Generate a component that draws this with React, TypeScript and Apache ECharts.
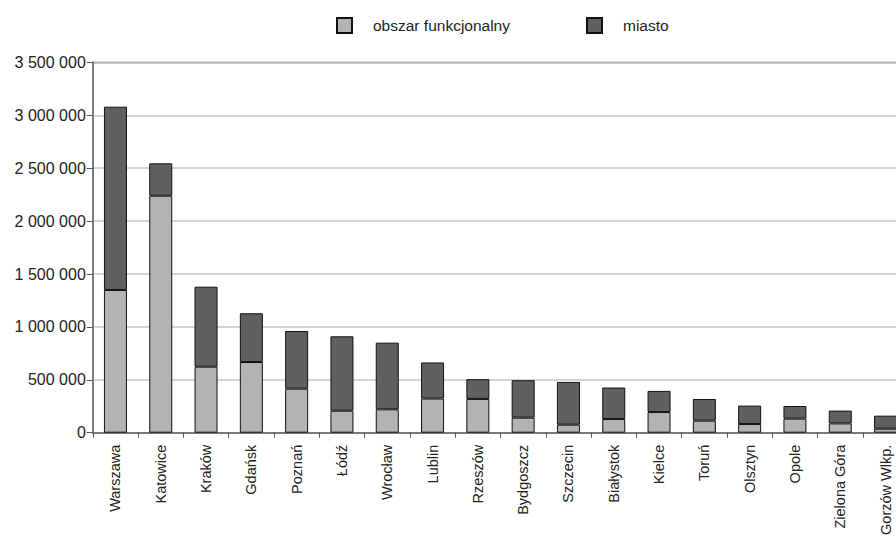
import React, { useEffect, useRef } from "react";
import * as echarts from "echarts";

const categories = [
  "Warszawa", "Katowice", "Kraków", "Gdańsk", "Poznań", "Łódź", "Wrocław", "Lublin", "Rzeszów",
  "Bydgoszcz", "Szczecin", "Białystok", "Kielce", "Toruń", "Olsztyn", "Opole", "Zielona Góra", "Gorzów Wlkp.",
];
const obszarFunkcjonalny = [
  1349000, 2240000, 624000, 668000, 416000, 208000, 221000, 323000, 319000,
  142000, 76000, 129000, 195000, 114000, 82000, 133000, 88000, 38000,
];
const miasto = [
  1732000, 306000, 756000, 461000, 545000, 703000, 630000, 341000, 187000,
  354000, 404000, 298000, 200000, 205000, 174000, 119000, 121000, 123000,
];
const yTicks = [0, 500000, 1000000, 1500000, 2000000, 2500000, 3000000, 3500000];

const FONT = "'Liberation Sans', Arial, sans-serif";

function fmt(v: number): string {
  return String(v).replace(/\B(?=(\d{3})+(?!\d))/g, " ");
}

export default function App() {
  const ref = useRef<HTMLDivElement>(null);
  useEffect(() => {
    document.body.style.margin = "0";
    if (!ref.current) return;
    const chart = echarts.init(ref.current, undefined, { renderer: "svg" });
    chart.setOption({
      animation: false,
      backgroundColor: "#ffffff",
      textStyle: { fontFamily: FONT },
      legend: {
        left: 331,
        top: 12,
        itemWidth: 15,
        itemHeight: 15,
        itemGap: 76,
        icon: "rect",
        textStyle: { fontFamily: FONT, fontSize: 15.5, color: "#222", padding: [0, 0, 0, 16] },
        data: ["obszar funkcjonalny", "miasto"],
      },
      grid: {
        left: 92.8,
        width: 815.4,
        top: 62.4,
        bottom: 108.3,
        outerBoundsMode: "none",
        containLabel: false,
        show: true,
        borderColor: "#7a7a7a",
        borderWidth: 1.5,
      },
      xAxis: {
        type: "category",
        data: categories,
        boundaryGap: true,
        axisLine: { lineStyle: { color: "#7a7a7a", width: 2 } },
        axisTick: { show: true, length: 5, alignWithLabel: false, lineStyle: { color: "#555" } },
        axisLabel: {
          rotate: 90,
          interval: 0,
          margin: 12,
          fontSize: 14.5,
          color: "#222",
          fontFamily: FONT,
        },
      },
      yAxis: {
        type: "value",
        min: yTicks[0],
        max: yTicks[yTicks.length - 1],
        interval: yTicks[1] - yTicks[0],
        axisLine: { show: true, lineStyle: { color: "#7a7a7a", width: 2 } },
        axisTick: { show: true, length: 6, lineStyle: { color: "#555" } },
        splitLine: { show: true, lineStyle: { color: "#c6c6c6", width: 1.5 } },
        axisLabel: {
          margin: 7,
          fontSize: 16,
          color: "#222",
          fontFamily: FONT,
          formatter: (v: number) => fmt(v),
        },
      },
      series: [
        {
          name: "obszar funkcjonalny",
          type: "bar",
          stack: "total",
          barWidth: 23,
          data: obszarFunkcjonalny,
          itemStyle: { color: "#b3b3b3", borderColor: "#111", borderWidth: 1 },
        },
        {
          name: "miasto",
          type: "bar",
          stack: "total",
          barWidth: 23,
          data: miasto,
          itemStyle: { color: "#606060", borderColor: "#111", borderWidth: 1 },
        },
      ],
    });
    return () => chart.dispose();
  }, []);
  return (
    <div style={{ position: "absolute", left: 0, top: 0, width: 896, height: 541, overflow: "hidden" }}>
      <div ref={ref} style={{ width: 896, height: 541 }} />
    </div>
  );
}
